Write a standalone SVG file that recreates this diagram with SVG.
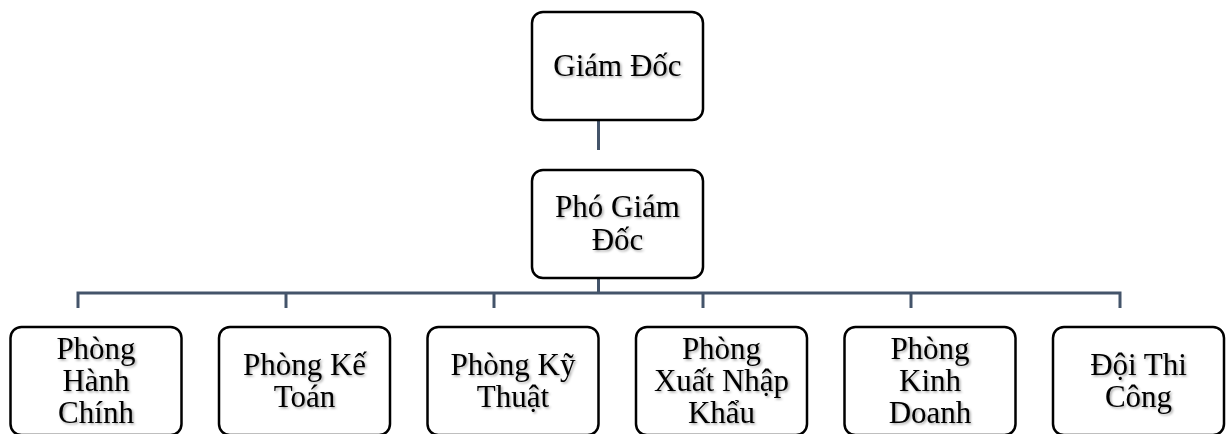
<svg xmlns="http://www.w3.org/2000/svg" width="1226" height="434" viewBox="0 0 1226 434">
<defs>
<filter id="sh" x="-10%" y="-10%" width="130%" height="140%">
<feDropShadow dx="1.5" dy="1.5" stdDeviation="1" flood-color="#000" flood-opacity="0.35"/>
</filter>
</defs>
<style>
.box{fill:#fff;stroke:#000;stroke-width:2.5}
.t{font-family:"Liberation Serif","Times New Roman",serif;font-size:31px;fill:#000;text-anchor:middle;filter:url(#sh)}
.c{fill:none;stroke:#44546A;stroke-width:3}
</style>
<rect width="1226" height="434" fill="#fff"/>
<g id="connectors">
<line class="c" x1="598.5" y1="120" x2="598.5" y2="150"/>
<line class="c" x1="598.5" y1="278" x2="598.5" y2="293"/>
<polyline class="c" points="78,308 78,293 1120,293 1120,308"/>
<line class="c" x1="286" y1="293" x2="286" y2="308"/>
<line class="c" x1="494" y1="293" x2="494" y2="308"/>
<line class="c" x1="703" y1="293" x2="703" y2="308"/>
<line class="c" x1="911" y1="293" x2="911" y2="308"/>
</g>
<g id="giam-doc">
<rect class="box" x="532" y="12" width="171" height="108" rx="11"/>
<text class="t" x="617.5" y="76">Giám Đốc</text>
</g>
<g id="pho-giam-doc">
<rect class="box" x="532" y="170" width="171" height="108" rx="11"/>
<text class="t" x="617.5" y="217">Phó Giám</text>
<text class="t" x="617.5" y="250">Đốc</text>
</g>
<g id="phong-hanh-chinh">
<rect class="box" x="10.5" y="327" width="171" height="108" rx="11"/>
<text class="t" x="96" y="359">Phòng</text>
<text class="t" x="96" y="391">Hành</text>
<text class="t" x="96" y="423">Chính</text>
</g>
<g id="phong-ke-toan">
<rect class="box" x="219" y="327" width="171" height="108" rx="11"/>
<text class="t" x="304.5" y="375">Phòng Kế</text>
<text class="t" x="304.5" y="407">Toán</text>
</g>
<g id="phong-ky-thuat">
<rect class="box" x="427.5" y="327" width="171" height="108" rx="11"/>
<text class="t" x="513" y="375">Phòng Kỹ</text>
<text class="t" x="513" y="407">Thuật</text>
</g>
<g id="phong-xnk">
<rect class="box" x="636" y="327" width="171" height="108" rx="11"/>
<text class="t" x="721.5" y="359">Phòng</text>
<text class="t" x="721.5" y="391">Xuất Nhập</text>
<text class="t" x="721.5" y="423">Khẩu</text>
</g>
<g id="phong-kinh-doanh">
<rect class="box" x="844.5" y="327" width="171" height="108" rx="11"/>
<text class="t" x="930" y="359">Phòng</text>
<text class="t" x="930" y="391">Kinh</text>
<text class="t" x="930" y="423">Doanh</text>
</g>
<g id="doi-thi-cong">
<rect class="box" x="1053" y="327" width="171" height="108" rx="11"/>
<text class="t" x="1138.5" y="375">Đội Thi</text>
<text class="t" x="1138.5" y="407">Công</text>
</g>
</svg>
